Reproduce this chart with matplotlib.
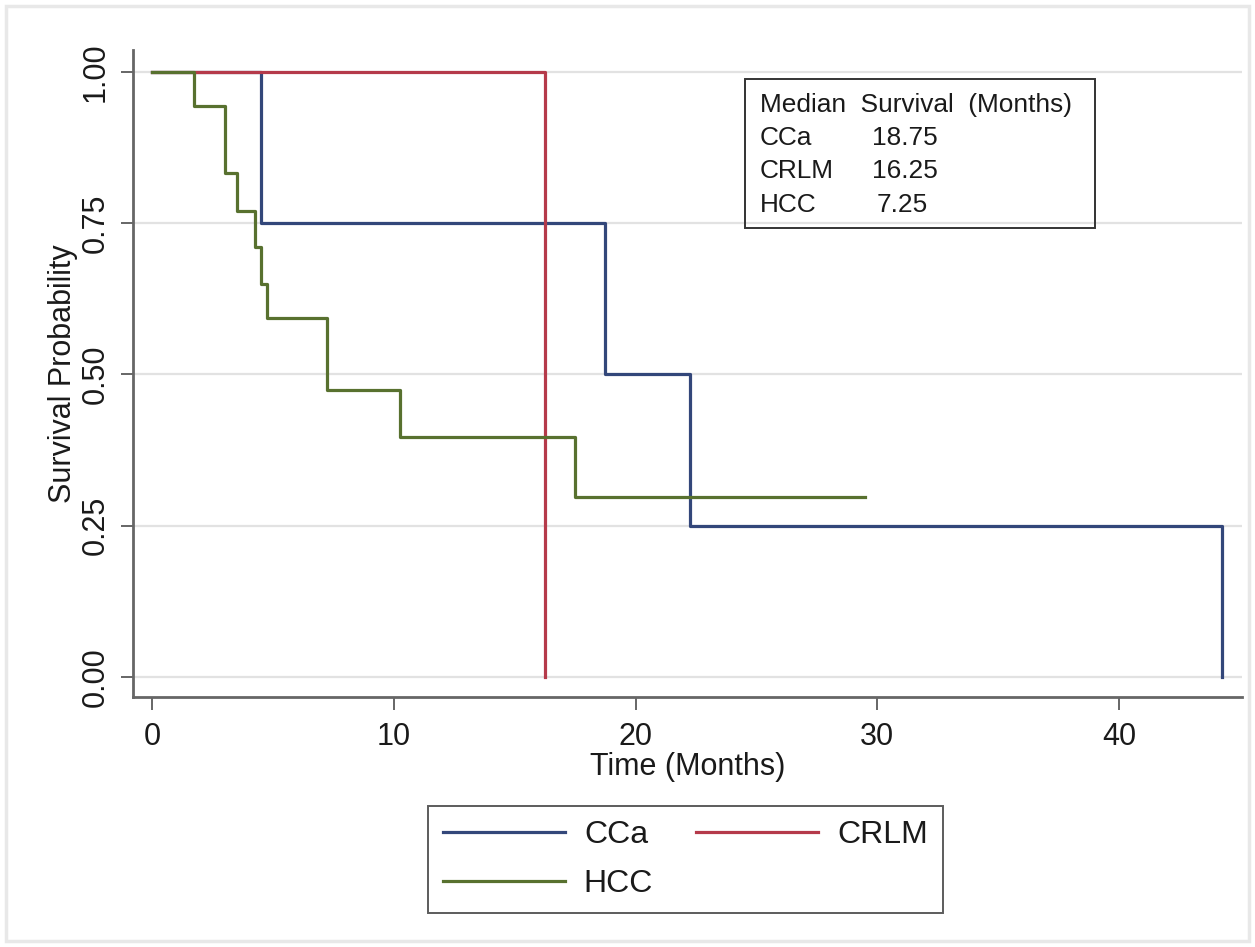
import matplotlib
matplotlib.use("Agg")
import matplotlib.pyplot as plt
from matplotlib.patches import Rectangle
from matplotlib.lines import Line2D

plt.rcParams['font.family'] = ['Liberation Sans', 'DejaVu Sans']

# ---- data ----
cca_times = [0, 4.5, 18.75, 22.25, 44.25]
cca_surv = [1.0, 0.75, 0.50, 0.25, 0.0]

crlm_times = [0, 16.25]
crlm_surv = [1.0, 0.0]

hcc_times = [0, 1.75, 3.0, 3.5, 4.25, 4.5, 4.75, 7.25, 10.25, 17.5]
hcc_surv = [1.0, 0.944, 0.833, 0.77, 0.71, 0.65, 0.593, 0.475, 0.396, 0.297]
hcc_last_time = 29.5

x_ticks = [0, 10, 20, 30, 40]
y_ticks = [0.0, 0.25, 0.50, 0.75, 1.00]

median_groups = ['CCa', 'CRLM', 'HCC']
median_values = [18.75, 16.25, 7.25]

# ---- style ----
W, H = 1255, 947
C_CCA = '#33477a'
C_CRLM = '#b53a4a'
C_HCC = '#58712f'
TXT = '#1a1a1a'


def fx(x):
    return x / W


def fy(y):
    return 1 - y / H


fig = plt.figure(figsize=(W / 100, H / 100), dpi=100)
fig.patch.set_facecolor('white')

# faint outer frame
fig.patches.append(Rectangle((fx(6), fy(941)), fx(1249) - fx(6), fy(6) - fy(941),
                             transform=fig.transFigure, fill=False,
                             edgecolor='#e8e8e8', linewidth=2.5, zorder=0))

ax = fig.add_axes([fx(133), fy(697), fx(1242) - fx(133), fy(50) - fy(697)])
ax.set_facecolor('white')

lw = 2.3
l_cca, = ax.step(cca_times, cca_surv, where='post', color=C_CCA, lw=lw, zorder=3)
l_crlm, = ax.step(crlm_times, crlm_surv, where='post', color=C_CRLM, lw=lw, zorder=4)
l_hcc, = ax.step(hcc_times + [hcc_last_time], hcc_surv + [hcc_surv[-1]],
                 where='post', color=C_HCC, lw=lw, zorder=5)

ax.set_xlim(-0.786, 45.08)
ax.set_ylim(-0.033, 1.036)

ax.set_xticks(x_ticks)
ax.set_xticklabels([str(t) for t in x_ticks])
ax.set_yticks(y_ticks)
ax.set_yticklabels([f"{t:.2f}" for t in y_ticks], rotation=90, va='center')

ax.grid(axis='y', color='#e2e2e2', lw=1.6, zorder=1)
ax.grid(axis='x', visible=False)
ax.set_axisbelow(True)

for s in ['top', 'right']:
    ax.spines[s].set_visible(False)
for s in ['left', 'bottom']:
    ax.spines[s].set_color('#666666')
    ax.spines[s].set_linewidth(2)

ax.tick_params(axis='both', direction='out', length=9, width=1.4, color='#666666',
               labelsize=22, labelcolor=TXT)
ax.tick_params(axis='x', pad=9)
ax.tick_params(axis='y', pad=7)

ax.set_xlabel('Time (Months)', fontsize=22, color=TXT, labelpad=0)
ax.set_ylabel('Survival Probability', fontsize=22, color=TXT, labelpad=2)

# median survival box
fig.patches.append(Rectangle((fx(745), fy(228)), fx(1095) - fx(745), fy(79) - fy(228),
                             transform=fig.transFigure, fill=False,
                             edgecolor='#333333', linewidth=1.4, zorder=6))
box_fs = 18.9
fig.text(fx(760), fy(105), 'Median  Survival  (Months)', fontsize=box_fs, color=TXT,
         va='center', ha='left')
for i, (g, v) in enumerate(zip(median_groups, median_values)):
    yy = 138 + i * 33.5
    fig.text(fx(760), fy(yy), g, fontsize=box_fs, color=TXT, va='center', ha='left')
    xv = 872 + (5 if v < 10 else 0)
    fig.text(fx(xv), fy(yy), f"{v:.2f}", fontsize=box_fs, color=TXT, va='center', ha='left')

# legend
leg = fig.legend([l_cca, l_hcc, l_crlm], ['CCa', 'HCC', 'CRLM'], ncol=2,
                 loc='center', bbox_to_anchor=(fx(685.5), fy(859.5)),
                 fontsize=23, handlelength=3.82, handletextpad=0.6,
                 columnspacing=1.35, borderpad=0.45, labelspacing=0.6,
                 frameon=True, fancybox=False, edgecolor='#333333')
leg.get_frame().set_linewidth(1.4)
for t in leg.get_texts():
    t.set_color(TXT)

fig.savefig('out.png', dpi=100, facecolor='white')
